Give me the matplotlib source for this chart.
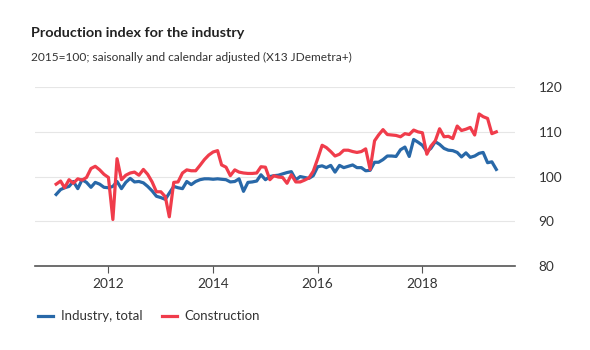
import matplotlib
matplotlib.use("Agg")
import matplotlib.pyplot as plt
import matplotlib.dates as mdates
import pandas as pd

plt.rcParams['font.family'] = ['Lato', 'DejaVu Sans']

months = pd.date_range("2011-01-01", periods=102, freq="MS")

industry = [
    96.0, 97.1, 97.5, 97.8, 98.9, 97.3, 99.3, 98.7, 97.6, 98.7, 98.3, 97.6,
    97.5, 97.8, 98.9, 97.3, 98.7, 99.6, 98.8, 98.9, 98.6, 97.8, 96.8, 95.6,
    95.3, 94.9, 96.3, 97.8, 97.5, 97.3, 98.9, 98.2, 98.9, 99.3, 99.5, 99.5,
    99.4, 99.5, 99.4, 99.3, 98.8, 98.9, 99.5, 96.7, 98.7, 98.8, 99.0, 100.4,
    99.3, 100.0, 100.2, 100.3, 100.6, 100.9, 101.1, 99.3, 100.0, 99.8, 99.6, 100.2,
    102.2, 102.4, 102.0, 102.5, 101.0, 102.5, 102.0, 102.3, 102.6, 102.0, 102.0, 101.3,
    101.4, 103.2, 103.2, 103.8, 104.6, 104.6, 104.5, 106.0, 106.6, 104.5, 108.3, 107.7,
    107.0, 105.6, 106.3, 107.8, 107.2, 106.3, 105.9, 105.8, 105.4, 104.4, 105.3, 104.3,
    104.6, 105.2, 105.4, 103.1, 103.3, 101.6,
]

construction = [
    98.3, 99.0, 97.5, 99.3, 98.5, 99.5, 99.2, 99.8, 101.8, 102.3, 101.5, 100.5,
    99.8, 90.4, 104.0, 99.3, 100.3, 100.8, 101.0, 100.3, 101.6, 100.5, 98.8, 96.6,
    96.6, 95.5, 91.0, 98.7, 98.8, 100.8, 101.5, 101.3, 101.3, 102.5, 103.8, 104.8,
    105.5, 105.8, 102.6, 102.1, 100.2, 101.5, 101.0, 100.8, 100.7, 100.7, 100.8, 102.2,
    102.1, 99.3, 100.2, 99.9, 99.8, 98.5, 100.4, 98.8, 98.8, 99.2, 99.7, 101.2,
    104.0, 107.0, 106.5, 105.6, 104.6, 105.0, 105.9, 105.9, 105.6, 105.4, 105.6, 106.2,
    101.6, 108.0, 109.3, 110.5, 109.4, 109.3, 109.2, 108.9, 109.6, 109.4, 110.4, 110.0,
    109.8, 105.0, 106.8, 108.0, 110.7, 108.9, 109.0, 108.5, 111.3, 110.3, 110.6, 111.0,
    109.3, 114.0, 113.4, 113.0, 109.6, 110.0,
]

y_ticks = [80, 90, 100, 110, 120]

fig = plt.figure(figsize=(5.9, 3.5), dpi=100)
ax = fig.add_axes([0.059, 0.24, 0.814, 0.511])

ax.plot(months, industry, color="#2868a8", lw=2.3, label="Industry, total", solid_joinstyle="round")
ax.plot(months, construction, color="#f03c4b", lw=2.3, label="Construction", solid_joinstyle="round")

ax.set_ylim(80, 120)
ax.set_xlim(pd.Timestamp("2010-08-05"), pd.Timestamp("2019-10-10"))
ax.set_yticks(y_ticks)
ax.yaxis.tick_right()
ax.tick_params(axis="y", length=0, pad=17, labelsize=9.8, labelcolor="#333333")
ax.xaxis.set_major_locator(mdates.YearLocator(2))
ax.xaxis.set_major_formatter(mdates.DateFormatter("%Y"))
ax.tick_params(axis="x", length=5, color="#555555", labelsize=9.8, labelcolor="#333333", pad=4)
ax.grid(axis="y", color="#e6e6e6", lw=0.8)
ax.set_axisbelow(True)
for s in ["top", "left", "right"]:
    ax.spines[s].set_visible(False)
ax.spines["bottom"].set_color("#555555")
ax.spines["bottom"].set_linewidth(1.2)

fig.text(0.053, 0.905, "Production index for the industry", fontsize=10.4,
         fontweight="bold", color="#222222", va="center")
fig.text(0.053, 0.837, "2015=100; saisonally and calendar adjusted (X13 JDemetra+)",
         fontsize=8.6, color="#333333", va="center")

fig.legend(loc="lower left", bbox_to_anchor=(0.045, 0.045), ncol=2, frameon=False,
           fontsize=9.5, handlelength=1.1, columnspacing=1.5, handletextpad=0.6,
           labelcolor="#333333")

fig.savefig("out.png", dpi=100)
